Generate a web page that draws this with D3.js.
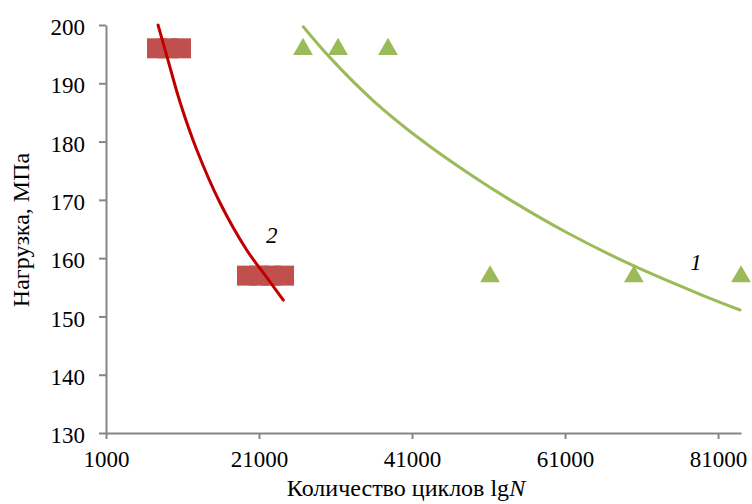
<!DOCTYPE html>
<head>
  <meta charset="utf-8">
  <script src="https://d3js.org/d3.v7.min.js"></script>
  <style>
    body { margin: 0; background: #fff; }
  </style>
</head>
<body>

<div id="my_dataviz"></div>

<script>

  // data
  var xTicks = [1000, 21000, 41000, 61000, 81000];
  var yTicks = [130, 140, 150, 160, 170, 180, 190, 200];

  // series 2 (red squares) and series 1 (green triangles)
  var squaresX = [7670, 9100, 10800, 19430, 21000, 22570, 24270];
  var squaresY = [196, 196, 196, 157, 157, 157, 157];
  var trianglesX = [26750, 31330, 37860, 51200, 70000, 84000];
  var trianglesY = [196, 196, 196, 157, 157, 157];

  // trend curves
  var curve2X = [7800, 8930, 10670, 12860, 15900, 19390, 22010, 24180];
  var curve2Y = [200, 194.8, 186.8, 178.6, 169.5, 161.4, 156.7, 152.8];
  var curve1X = [26790, 30280, 35940, 42480, 49010, 53810, 61220, 69930, 78650, 83880];
  var curve1Y = [199.7, 194.4, 187.0, 180.0, 174.0, 170.0, 164.4, 158.7, 153.8, 151.1];

  var curveLabels = ["2", "1"];
  var labelX = [22660, 78120];
  var labelY = [162.6, 158.0];

  var serif = "Liberation Serif";

  // set the dimensions and margins of the graph
  var margin = {top: 25, right: 11, bottom: 71, left: 106},
    width = 752 - margin.left - margin.right,
    height = 504 - margin.top - margin.bottom;

  var svg = d3.select("#my_dataviz")
  .append("svg")
    .attr("width", 752)
    .attr("height", 504)
  .append("g")
    .attr("transform", "translate(" + margin.left + "," + margin.top + ")");

  var x = d3.scaleLinear()
    .domain([1000, 84000])
    .range([0, width]);

  var y = d3.scaleLinear()
    .domain([130, 200])
    .range([height, 0]);

  // axes
  var xAxis = svg.append("g")
    .attr("transform", "translate(0," + height + ")")
    .call(d3.axisBottom(x).tickValues(xTicks).tickFormat(d3.format("d")).tickSizeInner(6).tickSizeOuter(0).tickPadding(12));

  var yAxis = svg.append("g")
    .call(d3.axisLeft(y).tickValues(yTicks).tickSizeInner(7).tickSizeOuter(0).tickPadding(14));

  [xAxis, yAxis].forEach(function(a) {
    a.select(".domain").attr("stroke", "#868686").attr("stroke-width", 2);
    a.selectAll(".tick line").attr("stroke", "#868686").attr("stroke-width", 2);
    a.selectAll(".tick text")
      .style("font-family", serif)
      .style("font-size", "23px")
      .attr("fill", "#000");
  });
  yAxis.selectAll(".tick text").attr("dy", "0.42em");

  // markers: squares
  svg.selectAll(".sq")
    .data(squaresX)
    .enter()
    .append("rect")
      .attr("x", function(d) { return x(d) - 10; })
      .attr("y", function(d, i) { return y(squaresY[i]) - 10; })
      .attr("width", 20)
      .attr("height", 20)
      .style("fill", "#C0504D");

  // markers: triangles
  var tri = d3.symbol().type(d3.symbolTriangle).size(170);
  svg.selectAll(".tri")
    .data(trianglesX)
    .enter()
    .append("path")
      .attr("d", tri)
      .attr("transform", function(d, i) { return "translate(" + x(d) + "," + (y(trianglesY[i]) + 1) + ")"; })
      .style("fill", "#9BBB59");

  // trend lines
  var line = d3.line()
    .x(function(d) { return x(d[0]); })
    .y(function(d) { return y(d[1]); })
    .curve(d3.curveCatmullRom.alpha(0.5));

  svg.append("path")
    .datum(d3.zip(curve2X, curve2Y))
    .attr("d", line)
    .attr("fill", "none")
    .attr("stroke", "#C00000")
    .attr("stroke-width", 3)
    .attr("stroke-linecap", "round");

  svg.append("path")
    .datum(d3.zip(curve1X, curve1Y))
    .attr("d", line)
    .attr("fill", "none")
    .attr("stroke", "#9BBB59")
    .attr("stroke-width", 3)
    .attr("stroke-linecap", "round");

  // curve labels
  svg.selectAll(".lbl")
    .data(curveLabels)
    .enter()
    .append("text")
      .attr("x", function(d, i) { return x(labelX[i]); })
      .attr("y", function(d, i) { return y(labelY[i]); })
      .attr("text-anchor", "middle")
      .style("font-family", serif)
      .style("font-size", "23px")
      .style("font-style", "italic")
      .text(function(d) { return d; });

  // axis titles
  var xt = svg.append("text")
    .attr("x", 300)
    .attr("y", height + 63)
    .attr("text-anchor", "middle")
    .style("font-family", serif)
    .style("font-size", "24px");
  xt.append("tspan").text("Количество циклов lg");
  xt.append("tspan").style("font-style", "italic").text("N");

  svg.append("text")
    .attr("transform", "translate(" + (-77) + "," + (height / 2 + 1) + ") rotate(-90)")
    .attr("text-anchor", "middle")
    .style("font-family", serif)
    .style("font-size", "24px")
    .text("Нагрузка, МПа");

</script>

</body>
